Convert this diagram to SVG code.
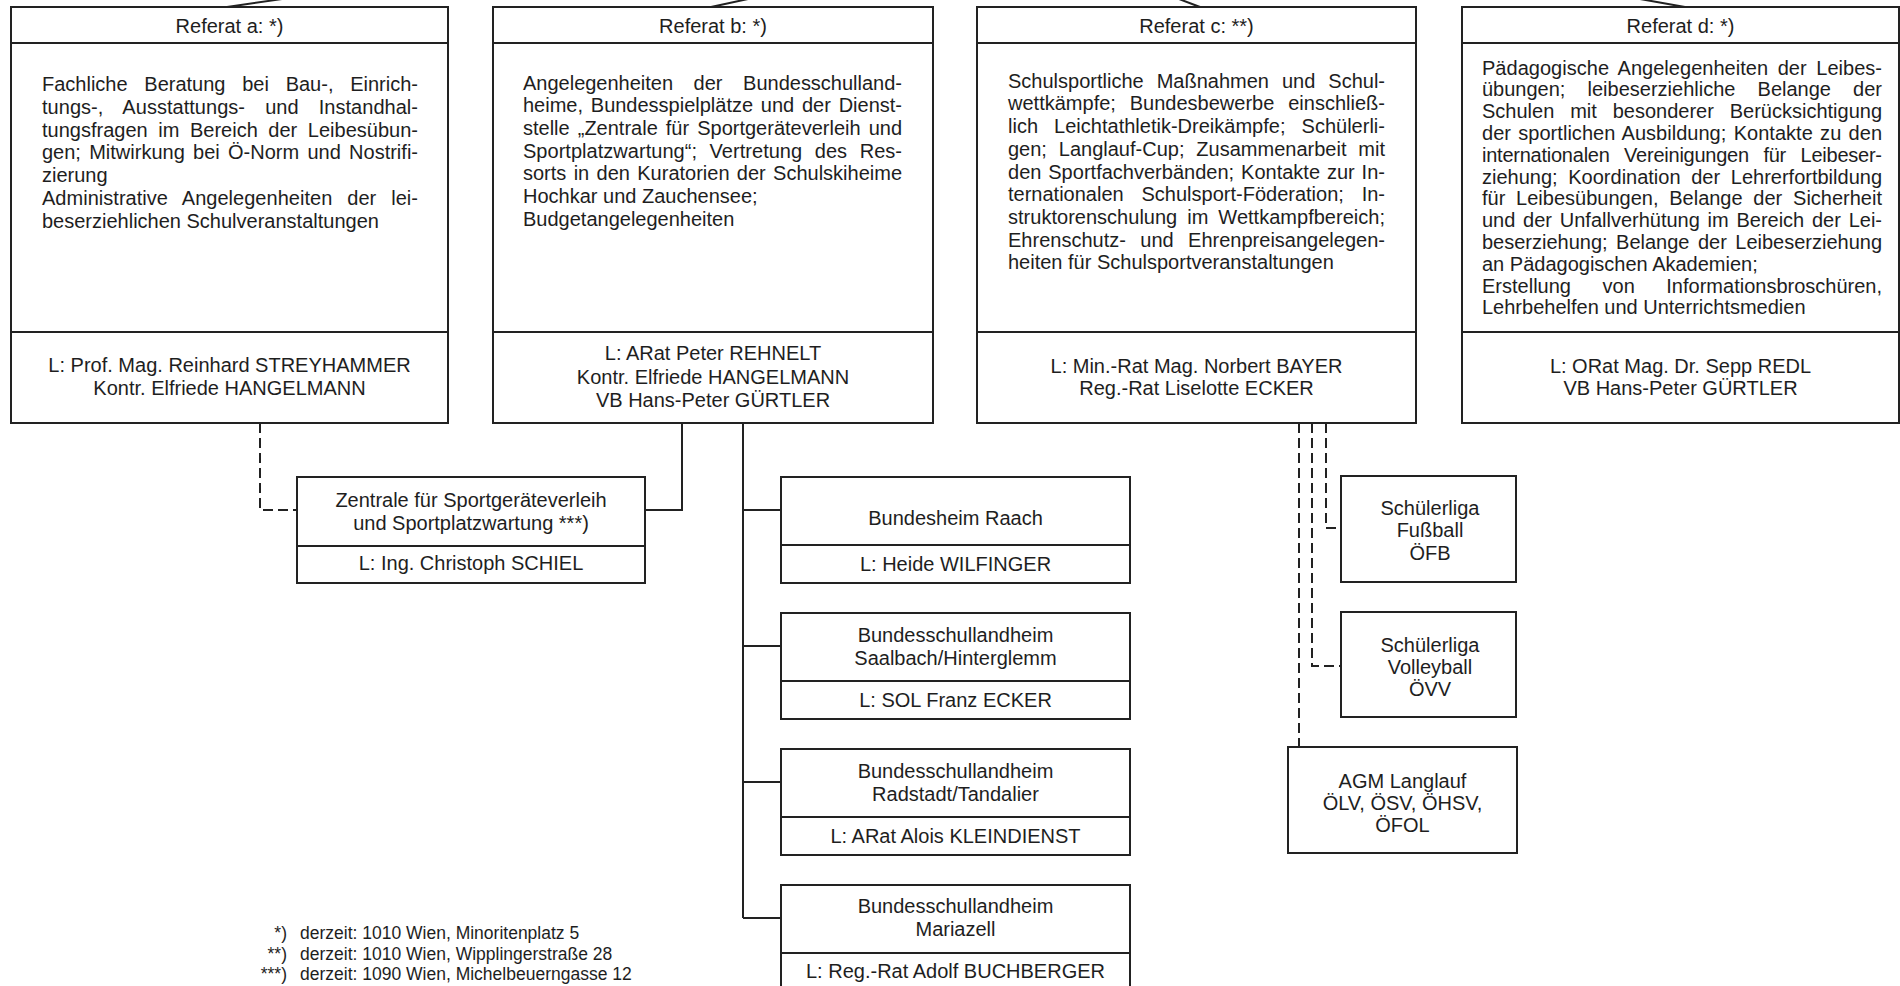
<svg xmlns="http://www.w3.org/2000/svg" width="1900" height="986" viewBox="0 0 1900 986">
<style>
.bg{fill:#fff}
.box{fill:#fff;stroke:#222;stroke-width:2}
.dv{stroke:#222;stroke-width:2}
.ln{fill:none;stroke:#222;stroke-width:2}
.dash{stroke-dasharray:10 5}
text{font-family:"Liberation Sans",Arial,sans-serif;font-size:20px;fill:#1e1e1e}
.c{text-anchor:middle}
.fn{font-size:17.5px}
.e{text-anchor:end}
</style>
<rect class="bg" x="0" y="0" width="1900" height="986"/>

<g id="connectors">
<path class="ln" d="M227,7 L282,-1"/>
<path class="ln" d="M711,7 L748,-1"/>
<path class="ln" d="M1179,-1 L1200,7"/>
<path class="ln" d="M1640,-1 L1685,7"/>
<path class="ln dash" d="M260,423 V510 H297"/>
<path class="ln" d="M645,510 H682 V423"/>
<path class="ln" d="M743,423 V918"/>
<path class="ln" d="M743,510 H781 M743,646 H781 M743,782 H781 M743,918 H781"/>
<path class="ln dash" d="M1326,423 V528 H1341"/>
<path class="ln dash" d="M1312,423 V666 H1341"/>
<path class="ln dash" d="M1299,423 V747"/>
</g>

<g id="referat-a">
<rect class="box" x="11" y="7" width="437" height="416"/>
<line class="dv" x1="11" y1="43" x2="448" y2="43"/>
<line class="dv" x1="11" y1="332" x2="448" y2="332"/>
<text class="c" x="229.5" y="33">Referat a: *)</text>
<text x="42" y="91" textLength="376" lengthAdjust="spacing" style="word-spacing:11.2px">Fachliche Beratung bei Bau-, Einrich-</text>
<text x="42" y="113.8" textLength="376" lengthAdjust="spacing" style="word-spacing:14.5px">tungs-, Ausstattungs- und Instandhal-</text>
<text x="42" y="136.6" textLength="376" lengthAdjust="spacing" style="word-spacing:5px">tungsfragen im Bereich der Leibesübun-</text>
<text x="42" y="159.4" textLength="376" lengthAdjust="spacing" style="word-spacing:2.7px">gen; Mitwirkung bei Ö-Norm und Nostrifi-</text>
<text x="42" y="182.2">zierung</text>
<text x="42" y="205" textLength="376" lengthAdjust="spacing" style="word-spacing:9.4px">Administrative Angelegenheiten der lei-</text>
<text x="42" y="227.8">beserziehlichen Schulveranstaltungen</text>
<text class="c" x="229.5" y="371.5">L: Prof. Mag. Reinhard STREYHAMMER</text>
<text class="c" x="229.5" y="394.5">Kontr. Elfriede HANGELMANN</text>
</g>

<g id="referat-b">
<rect class="box" x="493" y="7" width="440" height="416"/>
<line class="dv" x1="493" y1="43" x2="933" y2="43"/>
<line class="dv" x1="493" y1="332" x2="933" y2="332"/>
<text class="c" x="713" y="33">Referat b: *)</text>
<text x="523" y="89.5" textLength="379" lengthAdjust="spacing" style="word-spacing:15px">Angelegenheiten der Bundesschulland-</text>
<text x="523" y="112.2" textLength="379" lengthAdjust="spacing" style="word-spacing:2.2px">heime, Bundesspielplätze und der Dienst-</text>
<text x="523" y="134.9" textLength="379" lengthAdjust="spacing" style="word-spacing:2.5px">stelle „Zentrale für Sportgeräteverleih und</text>
<text x="523" y="157.6" textLength="379" lengthAdjust="spacing" style="word-spacing:7px">Sportplatzwartung“; Vertretung des Res-</text>
<text x="523" y="180.3" textLength="379" lengthAdjust="spacing" style="word-spacing:1.8px">sorts in den Kuratorien der Schulskiheime</text>
<text x="523" y="203">Hochkar und Zauchensee;</text>
<text x="523" y="225.7">Budgetangelegenheiten</text>
<text class="c" x="713" y="360">L: ARat Peter REHNELT</text>
<text class="c" x="713" y="383.5">Kontr. Elfriede HANGELMANN</text>
<text class="c" x="713" y="406.5">VB Hans-Peter GÜRTLER</text>
</g>

<g id="referat-c">
<rect class="box" x="977" y="7" width="439" height="416"/>
<line class="dv" x1="977" y1="43" x2="1416" y2="43"/>
<line class="dv" x1="977" y1="332" x2="1416" y2="332"/>
<text class="c" x="1196.5" y="33">Referat c: **)</text>
<text x="1008" y="87.7" textLength="377" lengthAdjust="spacing" style="word-spacing:7.4px">Schulsportliche Maßnahmen und Schul-</text>
<text x="1008" y="110.4" textLength="377" lengthAdjust="spacing" style="word-spacing:8.3px">wettkämpfe; Bundesbewerbe einschließ-</text>
<text x="1008" y="133.1" textLength="377" lengthAdjust="spacing" style="word-spacing:10.5px">lich Leichtathletik-Dreikämpfe; Schülerli-</text>
<text x="1008" y="155.8" textLength="377" lengthAdjust="spacing" style="word-spacing:6.3px">gen; Langlauf-Cup; Zusammenarbeit mit</text>
<text x="1008" y="178.5" textLength="377" lengthAdjust="spacing" style="word-spacing:1.3px">den Sportfachverbänden; Kontakte zur In-</text>
<text x="1008" y="201.2" textLength="377" lengthAdjust="spacing" style="word-spacing:12.2px">ternationalen Schulsport-Föderation; In-</text>
<text x="1008" y="223.9" textLength="377" lengthAdjust="spacing" style="word-spacing:4.4px">struktorenschulung im Wettkampfbereich;</text>
<text x="1008" y="246.6" textLength="377" lengthAdjust="spacing" style="word-spacing:8.8px">Ehrenschutz- und Ehrenpreisangelegen-</text>
<text x="1008" y="269.3">heiten für Schulsportveranstaltungen</text>
<text class="c" x="1196.5" y="373">L: Min.-Rat Mag. Norbert BAYER</text>
<text class="c" x="1196.5" y="395">Reg.-Rat Liselotte ECKER</text>
</g>

<g id="referat-d">
<rect class="box" x="1462" y="7" width="437" height="416"/>
<line class="dv" x1="1462" y1="43" x2="1899" y2="43"/>
<line class="dv" x1="1462" y1="332" x2="1899" y2="332"/>
<text class="c" x="1680.5" y="33">Referat d: *)</text>
<text x="1482" y="74.5" textLength="400" lengthAdjust="spacing" style="word-spacing:4px">Pädagogische Angelegenheiten der Leibes-</text>
<text x="1482" y="96.3" textLength="400" lengthAdjust="spacing" style="word-spacing:16.6px">übungen; leibeserziehliche Belange der</text>
<text x="1482" y="118.1" textLength="400" lengthAdjust="spacing" style="word-spacing:10.3px">Schulen mit besonderer Berücksichtigung</text>
<text x="1482" y="139.9" textLength="400" lengthAdjust="spacing" style="word-spacing:1.7px">der sportlichen Ausbildung; Kontakte zu den</text>
<text x="1482" y="161.7" textLength="400" lengthAdjust="spacing" style="word-spacing:9.2px">internationalen Vereinigungen für Leibeser-</text>
<text x="1482" y="183.5" textLength="400" lengthAdjust="spacing" style="word-spacing:5.1px">ziehung; Koordination der Lehrerfortbildung</text>
<text x="1482" y="205.3" textLength="400" lengthAdjust="spacing" style="word-spacing:5.2px">für Leibesübungen, Belange der Sicherheit</text>
<text x="1482" y="227.1" textLength="400" lengthAdjust="spacing" style="word-spacing:2.2px">und der Unfallverhütung im Bereich der Lei-</text>
<text x="1482" y="248.9" textLength="400" lengthAdjust="spacing" style="word-spacing:2.9px">beserziehung; Belange der Leibeserziehung</text>
<text x="1482" y="270.7">an Pädagogischen Akademien;</text>
<text x="1482" y="292.5" textLength="400" lengthAdjust="spacing" style="word-spacing:26px">Erstellung von Informationsbroschüren,</text>
<text x="1482" y="314.3">Lehrbehelfen und Unterrichtsmedien</text>
<text class="c" x="1680.5" y="373">L: ORat Mag. Dr. Sepp REDL</text>
<text class="c" x="1680.5" y="395">VB Hans-Peter GÜRTLER</text>
</g>

<g id="zentrale">
<rect class="box" x="297" y="477" width="348" height="106"/>
<line class="dv" x1="297" y1="546" x2="645" y2="546"/>
<text class="c" x="471" y="507">Zentrale für Sportgeräteverleih</text>
<text class="c" x="471" y="530">und Sportplatzwartung ***)</text>
<text class="c" x="471" y="570">L: Ing. Christoph SCHIEL</text>
</g>

<g id="heim-raach">
<rect class="box" x="781" y="477" width="349" height="106"/>
<line class="dv" x1="781" y1="545" x2="1130" y2="545"/>
<text class="c" x="955.5" y="525">Bundesheim Raach</text>
<text class="c" x="955.5" y="571">L: Heide WILFINGER</text>
</g>

<g id="heim-saalbach">
<rect class="box" x="781" y="613" width="349" height="106"/>
<line class="dv" x1="781" y1="681" x2="1130" y2="681"/>
<text class="c" x="955.5" y="642">Bundesschullandheim</text>
<text class="c" x="955.5" y="665">Saalbach/Hinterglemm</text>
<text class="c" x="955.5" y="707">L: SOL Franz ECKER</text>
</g>

<g id="heim-radstadt">
<rect class="box" x="781" y="749" width="349" height="106"/>
<line class="dv" x1="781" y1="817" x2="1130" y2="817"/>
<text class="c" x="955.5" y="778">Bundesschullandheim</text>
<text class="c" x="955.5" y="801">Radstadt/Tandalier</text>
<text class="c" x="955.5" y="843">L: ARat Alois KLEINDIENST</text>
</g>

<g id="heim-mariazell">
<rect class="box" x="781" y="885" width="349" height="106"/>
<line class="dv" x1="781" y1="953" x2="1130" y2="953"/>
<text class="c" x="955.5" y="913">Bundesschullandheim</text>
<text class="c" x="955.5" y="936">Mariazell</text>
<text class="c" x="955.5" y="978">L: Reg.-Rat Adolf BUCHBERGER</text>
</g>

<g id="schuelerliga-fussball">
<rect class="box" x="1341" y="476" width="175" height="106"/>
<text class="c" x="1430" y="515">Schülerliga</text>
<text class="c" x="1430" y="537">Fußball</text>
<text class="c" x="1430" y="560">ÖFB</text>
</g>

<g id="schuelerliga-volleyball">
<rect class="box" x="1341" y="612" width="175" height="105"/>
<text class="c" x="1430" y="652">Schülerliga</text>
<text class="c" x="1430" y="674">Volleyball</text>
<text class="c" x="1430" y="696">ÖVV</text>
</g>

<g id="agm-langlauf">
<rect class="box" x="1288" y="747" width="229" height="106"/>
<text class="c" x="1402.5" y="788">AGM Langlauf</text>
<text class="c" x="1402.5" y="810">ÖLV, ÖSV, ÖHSV,</text>
<text class="c" x="1402.5" y="832">ÖFOL</text>
</g>

<g id="footnotes">
<text class="fn e" x="287" y="939">*)</text>
<text class="fn" x="300" y="939">derzeit: 1010 Wien, Minoritenplatz 5</text>
<text class="fn e" x="287" y="960">**)</text>
<text class="fn" x="300" y="960">derzeit: 1010 Wien, Wipplingerstraße 28</text>
<text class="fn e" x="287" y="980">***)</text>
<text class="fn" x="300" y="980">derzeit: 1090 Wien, Michelbeuerngasse 12</text>
</g>
</svg>
